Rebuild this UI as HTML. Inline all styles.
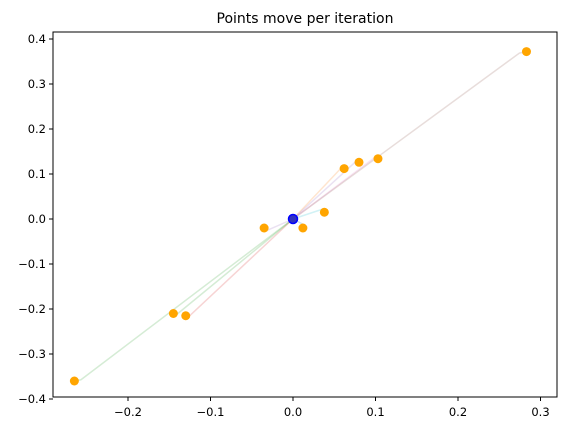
<!DOCTYPE html>
<html><head><meta charset="utf-8"><style>
body{margin:0;background:#fff;font-family:"Liberation Sans","DejaVu Sans",sans-serif}
svg text{font-family:"DejaVu Sans","Liberation Sans",sans-serif;font-size:11.5px;fill:#000}
</style></head><body>
<svg id="chart" width="561" height="435">
<text x="305" y="23" text-anchor="middle" style="font-size:14px">Points move per iteration</text>
<g id="lines"></g><g id="pts"></g>
<rect x="53" y="32" width="504" height="365" fill="none" stroke="#000" stroke-width="1"/>
<g id="ax"></g>
</svg>
<script>
const xs=[-0.265,-0.145,-0.13,-0.035,0.012,0.038,0.062,0.08,0.103,0.283];
const ys=[-0.36,-0.21,-0.215,-0.02,-0.02,0.015,0.112,0.126,0.134,0.372];
const colors=['#2ca02c','#2ca02c','#d62728','#9467bd','#1f77b4','#17becf','#ff7f0e','#9467bd','#e377c2','#8c564b'];
const xTicks=[-0.2,-0.1,0.0,0.1,0.2,0.3];
const yTicks=[-0.4,-0.3,-0.2,-0.1,0.0,0.1,0.2,0.3,0.4];
const X=v=>293+v*825, Y=v=>219-v*450;
const NS='http://www.w3.org/2000/svg';
const L=document.getElementById('lines'),P=document.getElementById('pts'),A=document.getElementById('ax');
xs.forEach((x,i)=>{
 const y=ys[i];
 const pl=document.createElementNS(NS,'polyline');
 pl.setAttribute('points',`${X(0)},${Y(0)} ${X(x*0.97)},${Y(y*0.97+(x>0?0.008:-0.008))} ${X(x)},${Y(y)}`);
 pl.setAttribute('fill','none');pl.setAttribute('stroke',colors[i]);pl.setAttribute('stroke-opacity','0.2');pl.setAttribute('stroke-width','1.5');
 
 
 L.appendChild(pl);
 const c=document.createElementNS(NS,'circle');
 c.setAttribute('cx',X(x));c.setAttribute('cy',Y(y));c.setAttribute('r','4.5');c.setAttribute('fill','#ffa500');
 
 
 P.appendChild(c);
});
const o=document.createElementNS(NS,'circle');
o.setAttribute('cx',X(0));o.setAttribute('cy',Y(0));o.setAttribute('r','4.5');o.setAttribute('fill','#3030c0');o.setAttribute('stroke','#0000ff');o.setAttribute('stroke-width','1.5');


P.appendChild(o);
xTicks.forEach(t=>{
 const l=document.createElementNS(NS,'line');l.setAttribute('x1',X(t));l.setAttribute('x2',X(t));l.setAttribute('y1',397);l.setAttribute('y2',401);l.setAttribute('stroke','#000');
 
 
 A.appendChild(l);
 const tx=document.createElementNS(NS,'text');tx.setAttribute('x',X(t));tx.setAttribute('y',416);tx.setAttribute('text-anchor','middle');tx.textContent=(t<0?'\u2212':'')+Math.abs(t).toFixed(1);
 
 
 A.appendChild(tx);
});
yTicks.forEach(t=>{
 const l=document.createElementNS(NS,'line');l.setAttribute('x1',49);l.setAttribute('x2',53);l.setAttribute('y1',Y(t));l.setAttribute('y2',Y(t));l.setAttribute('stroke','#000');
 
 
 A.appendChild(l);
 const tx=document.createElementNS(NS,'text');tx.setAttribute('x',46);tx.setAttribute('y',Y(t)+4);tx.setAttribute('text-anchor','end');tx.textContent=(t<0?'\u2212':'')+Math.abs(t).toFixed(1);
 
 
 A.appendChild(tx);
});
</script>
</body></html>
